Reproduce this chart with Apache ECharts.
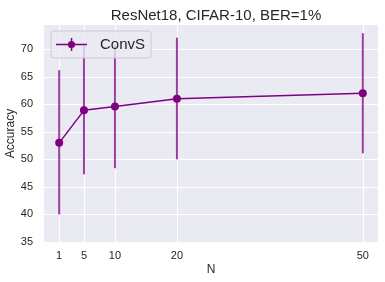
<!DOCTYPE html>
<html>
<head>
<meta charset="utf-8">
<script src="https://cdn.jsdelivr.net/npm/echarts@6/dist/echarts.min.js"></script>
<style>
html,body{margin:0;padding:0;background:#fff;}
#chart{width:385px;height:282px;}
</style>
</head>
<body>
<div id="chart"></div>
<script>
const nValues = [1, 5, 10, 20, 50];
const accuracy = [53.0, 58.9, 59.6, 61.0, 62.0];
const errLow = [40.0, 47.3, 48.4, 50.0, 51.1];
const errHigh = [66.2, 70.7, 70.8, 72.1, 72.9];
const xTicks = [1, 5, 10, 20, 50];
const yTicks = [35, 40, 45, 50, 55, 60, 65, 70];

const font = '"Liberation Sans", Arial, sans-serif';
const chart = echarts.init(document.getElementById('chart'), null, {renderer: 'canvas'});

const lineData = nValues.map((n, i) => [n, accuracy[i]]);
const errData = nValues.map((n, i) => [n, errLow[i], errHigh[i]]);

chart.setOption({
  animation: false,
  backgroundColor: '#ffffff',
  title: {
    text: 'ResNet18, CIFAR-10, BER=1%',
    left: 211, top: 3, textAlign: 'center',
    textStyle: {fontFamily: font, fontSize: 15, fontWeight: 'normal', color: '#262626'}
  },
  grid: {
    left: 44, right: 7, top: 25, bottom: 40,
    containLabel: false, outerBoundsMode: 'none',
    show: true, backgroundColor: '#EAEAF2', borderWidth: 0
  },
  legend: {
    left: 51, top: 31,
    data: ['ConvS'],
    orient: 'horizontal',
    padding: [6, 6, 6, 5],
    itemWidth: 31, itemHeight: 13,
    backgroundColor: 'rgba(234,234,242,0.8)',
    borderColor: '#cccccc', borderWidth: 1, borderRadius: 3,
    icon: 'path://M0,5.8h31v1.5h-31z M14.8,0h1.5v13h-1.5z M15.5,2.9a3.6,3.6 0 1,1 -0.001,0z',
    textStyle: {fontFamily: font, fontSize: 15, color: '#262626', padding: [0, 0, 0, 8]}
  },
  xAxis: {
    type: 'value', min: -1.45, max: 52.45,
    name: 'N', nameLocation: 'middle', nameGap: 22, nameMoveOverlap: false,
    nameTextStyle: {fontFamily: font, fontSize: 12, color: '#262626'},
    axisLine: {show: false},
    axisTick: {show: false, customValues: xTicks},
    axisLabel: {customValues: xTicks, fontFamily: font, fontSize: 11, color: '#262626', margin: 8},
    splitLine: {show: true, lineStyle: {color: '#ffffff', width: 1}}
  },
  yAxis: {
    type: 'value', min: 35, max: 74.4,
    name: 'Accuracy', nameLocation: 'middle', nameGap: 27, nameMoveOverlap: false,
    nameTextStyle: {fontFamily: font, fontSize: 12, color: '#262626'},
    axisLine: {show: false},
    axisTick: {show: false, customValues: yTicks},
    axisLabel: {customValues: yTicks, fontFamily: font, fontSize: 11, color: '#262626', margin: 11},
    splitLine: {show: true, lineStyle: {color: '#ffffff', width: 1}}
  },
  series: [
    {
      type: 'custom',
      name: 'err',
      z: 2,
      data: errData,
      renderItem: function (params, api) {
        const x = api.value(0);
        const lo = api.coord([x, api.value(1)]);
        const hi = api.coord([x, api.value(2)]);
        return {
          type: 'line',
          shape: {x1: lo[0], y1: lo[1], x2: hi[0], y2: hi[1]},
          style: {stroke: 'rgba(128,0,128,0.75)', lineWidth: 2}
        };
      },
      silent: true
    },
    {
      type: 'line',
      name: 'ConvS',
      z: 3,
      data: lineData,
      symbol: 'circle', symbolSize: 8,
      lineStyle: {color: '#800080', width: 1.5},
      itemStyle: {color: '#800080'}
    }
  ]
});
</script>
</body>
</html>
